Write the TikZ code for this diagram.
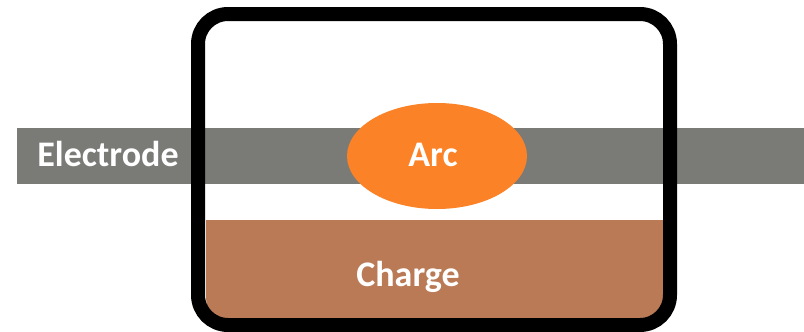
\documentclass[tikz,border=0pt]{standalone}
\usepackage{fontspec}
\setmainfont{Carlito}
\usetikzlibrary{shapes.geometric}
\definecolor{electrodegray}{HTML}{7A7B77}
\definecolor{arcorange}{HTML}{FB8227}
\definecolor{chargebrown}{HTML}{BA7A56}
\tikzset{
  lbl/.style={text=white, font=\fontsize{36}{40}\selectfont\bfseries, inner sep=0pt},
}
\begin{document}
\begin{tikzpicture}[x=1pt,y=-1pt]
\useasboundingbox (0,0) rectangle (804,332);
% electrode bar
\fill[electrodegray] (17,128) rectangle (804,184);
% charge
\fill[chargebrown, rounded corners=22pt] (206,220) -- (665,220) -- (665,320) -- (206,320) -- cycle;
\fill[chargebrown] (206,220) rectangle (665,260);
% arc
\node[ellipse, fill=arcorange, minimum width=180pt, minimum height=106pt, inner sep=0pt] (arc) at (437,156) {};
\node[lbl, anchor=base] (arctext) at (433,166) {Arc};
\node[lbl, anchor=base] (electrode) at (108,166) {Electrode};
\node[lbl, anchor=base] (charge) at (408,286) {Charge};
% vessel
\draw[line width=14pt, rounded corners=30pt] (198,14) rectangle (670,325);
\end{tikzpicture}
\end{document}
